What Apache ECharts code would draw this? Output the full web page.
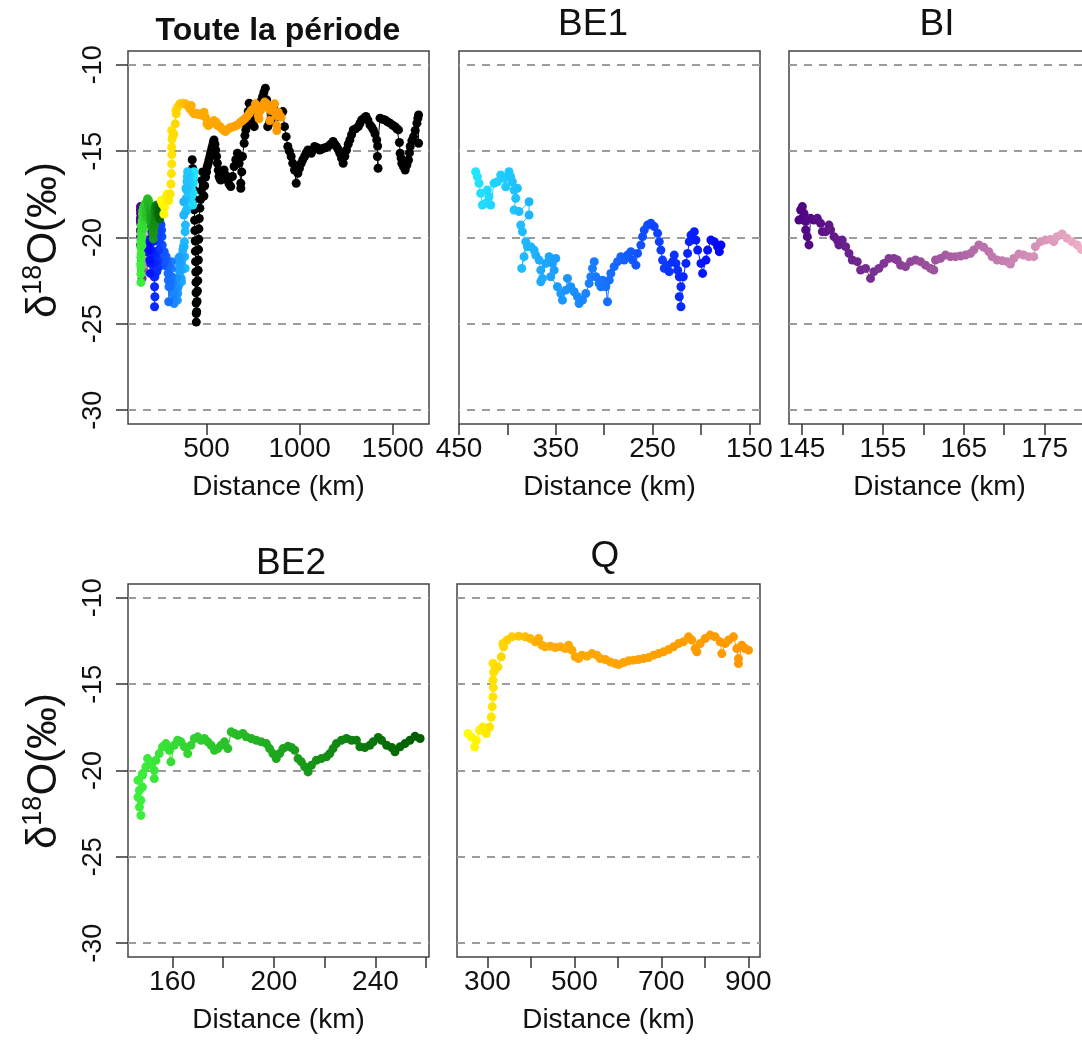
<!DOCTYPE html>
<html><head><meta charset="utf-8">
<script src="https://cdn.jsdelivr.net/npm/echarts@6/dist/echarts.min.js"></script>
<style>html,body{margin:0;padding:0;background:#fff}#c{width:1082px;height:1041px}</style>
</head><body><div id="c"></div>
<script>
// ---------- DATA ----------
const BE1_dist = [432.8,431,429.3,427.6,425.9,422.4,420.7,419,417.2,413.8,410.3,406.9,403.4,401.7,398.3,396.6,394.8,393.1,389.7,391.4,393.1,387.9,377.6,377.6,386.2,384.5,381,385.2,382.8,379.3,375.9,372.4,370.7,367.2,365.5,363.8,365.5,360.3,356.9,353.4,350,351.7,355.2,348.3,344.8,343.1,339.7,337.9,334.5,331,327.6,325.9,322.4,319,315.5,313.8,312.1,310.3,308.6,305.2,303.4,301.7,298.3,296.6,294.8,293.1,289.7,286.2,282.8,279.3,275.9,272.4,270.7,267.2,265.5,262.1,260.3,258.6,255.2,251.7,248.3,244.8,243.1,241.4,239.7,237.9,234.5,232.8,229.3,227.6,225.9,224.1,222.4,220.7,222.4,220.7,218.3,215.5,213.8,212.1,210.3,206.9,205.2,203.4,200,198.3,194.8,193.1,189.7,186.2,182.8,181,179.3];
const BE1_d18O = [-16.19,-16.48,-16.86,-17.44,-18.12,-18.02,-17.25,-17.64,-18.12,-16.86,-16.77,-16.38,-16.57,-17.06,-16.19,-16.48,-16.77,-17.25,-17.15,-17.73,-18.41,-18.5,-17.93,-18.7,-19.28,-19.66,-20.24,-21.79,-21.11,-20.53,-20.53,-20.73,-21.02,-21.31,-21.89,-22.37,-22.56,-21.5,-21.11,-21.5,-21.21,-21.89,-22.27,-22.85,-23.24,-23.63,-23.05,-22.37,-22.85,-23.14,-23.43,-23.82,-23.63,-23.24,-22.66,-22.27,-21.79,-21.4,-22.27,-22.66,-22.85,-22.47,-22.85,-23.72,-22.47,-22.08,-21.69,-21.4,-21.11,-21.31,-21.02,-20.82,-21.31,-21.6,-20.92,-20.44,-19.95,-19.57,-19.28,-19.18,-19.37,-19.76,-20.24,-20.73,-21.31,-21.79,-21.6,-21.98,-21.4,-21.02,-21.5,-21.89,-22.27,-22.85,-23.43,-24.01,-22.27,-21.5,-20.92,-20.24,-19.86,-19.66,-20.15,-20.73,-21.5,-22.08,-21.31,-20.73,-20.15,-20.24,-20.53,-20.82,-20.44];

const BI_dist = [144.84,145.05,145.25,144.63,145.05,145.46,145.46,145.66,145.87,146.07,146.49,146.9,147.31,147.52,147.93,148.34,148.54,148.96,149.37,149.57,149.98,150.4,150.81,151.22,151.84,152.25,152.87,153.48,153.89,154.51,155.13,155.75,156.36,156.78,157.19,157.8,158.42,159.04,159.66,160.27,160.89,161.3,161.51,162.12,162.74,163.36,163.98,164.59,165.21,165.83,166.24,166.86,167.47,168.09,168.5,169.12,169.74,170.35,170.77,171.18,171.8,172.41,173.03,173.65,173.85,174.47,175.08,175.7,176.12,176.53,177.15,177.76,178.38,179,179.53];
const BI_d18O = [-18.41,-18.21,-18.6,-18.99,-18.89,-19.08,-19.56,-19.95,-20.43,-18.89,-18.99,-18.89,-19.18,-19.66,-19.66,-19.28,-19.56,-19.95,-20.15,-20.43,-20.15,-20.53,-20.92,-21.3,-21.4,-21.88,-21.79,-22.37,-21.98,-21.79,-21.5,-21.21,-21.21,-21.3,-21.6,-21.69,-21.4,-21.3,-21.4,-21.6,-21.79,-21.88,-21.3,-21.21,-21.02,-21.11,-21.11,-21.07,-21.02,-20.92,-20.72,-20.43,-20.57,-20.82,-21.11,-21.3,-21.34,-21.4,-21.54,-21.21,-20.96,-21.02,-21.11,-21.11,-20.53,-20.24,-20.15,-20.11,-20.24,-19.95,-19.8,-20.05,-20.24,-20.43,-20.69];

const BE2_dist = [147.6,147.0,147.6,146.4,147.0,146.4,148.2,148.2,148.23,149.55,150.2,151.5,152.84,152.84,153.5,154.8,156.1,157.45,158.77,159.4,160.74,162.06,163.38,164.7,166.02,167.33,168.65,169.97,171.3,172.6,173.92,175.24,176.56,177.87,179.19,180.5,181.83,183.14,184.46,185.78,187.75,189.07,191.05,193.03,195,197,198.3,199.6,200.9,202.25,203.57,205.54,206.86,208.2,209.5,210.8,212.1,213.45,214.77,216.7,218.7,220.7,222,223.3,224.6,226.6,228.6,230.6,232.5,233.87,235.8,237.8,239.1,241.1,242.4,244.4,246.4,247.7,249.7,251.65,253.6,255.6,257.6];
const BE2_d18O = [-22.6,-22.12,-21.73,-21.54,-21.15,-20.57,-20.96,-20.18,-20.28,-19.79,-19.31,-19.6,-19.99,-20.47,-19.41,-19.02,-18.63,-18.44,-18.83,-19.5,-18.54,-18.25,-18.34,-18.63,-19.02,-18.54,-18.15,-18.05,-18.25,-18.15,-18.34,-18.54,-18.83,-18.73,-18.54,-18.34,-18.73,-17.76,-17.86,-17.96,-17.86,-18.05,-18.15,-18.25,-18.34,-18.44,-18.73,-19.02,-19.31,-19.02,-18.73,-18.6,-18.67,-18.83,-19.31,-19.5,-19.79,-20.08,-19.7,-19.41,-19.31,-19.21,-19.02,-18.73,-18.44,-18.25,-18.15,-18.25,-18.25,-18.63,-18.67,-18.54,-18.34,-18.09,-18.25,-18.54,-18.67,-18.92,-18.63,-18.44,-18.25,-18.02,-18.15];

const Q_dist = [255.3,263,270.6,274.5,282,289.7,297.4,305,308.9,311,312.7,313.5,312.7,314.5,312.7,316.6,324.1,331.9,335.6,337.3,345,356.4,371.8,387.1,398.6,410,417.7,425.4,433,444.6,456,467.5,479,486.7,494.4,502,509.7,517.4,528.9,540.3,551.8,559.5,571,582.5,594,601.6,613,624.6,636,647.6,659,670.6,682,693.6,705,716.6,728,739.6,751,762.6,770.2,777.9,781.7,789.4,800.9,812.4,823.9,835.4,839.2,846.9,854.5,866,873.6,877.5,877.5,885.2,892.8,900.5];
const Q_d18O = [-17.86,-18.06,-18.64,-18.25,-17.67,-17.48,-17.86,-17.48,-16.9,-16.3,-15.74,-15.2,-14.77,-14.3,-13.8,-14.19,-14.0,-13.42,-12.64,-12.84,-12.45,-12.26,-12.22,-12.26,-12.36,-12.55,-12.36,-12.74,-12.84,-12.8,-12.88,-12.84,-12.94,-12.74,-13.03,-13.42,-13.52,-13.32,-13.38,-13.23,-13.32,-13.52,-13.57,-13.71,-13.81,-13.86,-13.75,-13.65,-13.61,-13.57,-13.52,-13.46,-13.32,-13.23,-13.13,-13.0,-12.84,-12.65,-12.55,-12.26,-12.45,-12.94,-13.13,-12.65,-12.36,-12.16,-12.26,-12.55,-13.23,-12.65,-12.45,-12.26,-12.94,-13.52,-13.81,-12.74,-12.94,-13.03];

const ALL_dist = [423,425,428,430,432,434,436,437,439,440,441,442,443,443.5,444,444.7,445,447,449,451,453,455,456,457,458,459,461,464,468,472,476,479,482,486,490,495,500,504,509,513,518,522,527,531,536,540,545,549,554,558,563,567,572,576,585,594,603,612,621,630,639,648,657,666,675,684,684,689,693,702,706,711,715,720,724,729,734,738,747,756,765,774,783,792,801,808,815.9,823,828.5,837,846.5,855,864.5,878,891.5,900,909.6,918.6,927.6,936.6,945,954.6,963,972.6,981.6,990.6,999,1008.6,1017,1026.6,1035,1044.7,1053,1062.7,1071,1080.7,1094,1107.7,1117,1125.8,1139,1152.8,1166,1179.8,1189,1197.8,1207,1215.9,1225,1233.9,1243,1251.9,1261,1269.9,1279,1288,1301,1315,1324,1333,1345,1356.4,1367,1378,1387,1396,1405,1414,1417.7,1421.3,1419,1432,1445,1459,1472,1486,1500,1513,1522,1531,1536,1540,1545,1549,1558,1567,1576,1585,1590,1594,1603,1612,1621,1630,1635,1639,1639];
const ALL_d18O = [-15.5,-16.0,-16.6,-17.2,-17.8,-18.4,-19.0,-19.6,-20.2,-20.8,-21.4,-22.0,-22.6,-23.2,-23.8,-24.4,-24.9,-24.3,-23.7,-23.1,-22.5,-21.9,-21.3,-20.7,-20.1,-19.5,-18.9,-18.3,-17.8,-17.3,-16.7,-16.2,-17.0,-17.6,-17.0,-16.5,-16.2,-15.89,-15.7,-15.51,-15.3,-15.12,-14.9,-14.73,-14.5,-14.35,-14.6,-14.93,-15.3,-15.7,-16.1,-16.47,-16.6,-16.67,-16.3,-16.09,-16.4,-16.67,-16.9,-17.05,-16.47,-15.89,-15.5,-15.12,-15.7,-16.86,-17.15,-16.2,-15.31,-14.54,-14.1,-13.77,-13.5,-13.19,-12.7,-12.22,-12.6,-12.99,-13.3,-13.58,-12.99,-12.7,-12.42,-12.1,-11.84,-11.6,-11.35,-12.03,-13.58,-13.4,-13.19,-12.9,-12.61,-12.8,-12.99,-12.85,-12.71,-13.58,-14.16,-14.73,-15.0,-15.31,-15.7,-16.09,-16.86,-16.28,-16.0,-15.7,-15.5,-15.31,-15.1,-14.93,-15.0,-15.12,-14.9,-14.73,-14.8,-14.93,-14.9,-14.83,-14.8,-14.73,-14.6,-14.44,-14.6,-14.73,-14.9,-15.12,-15.4,-15.7,-15.3,-14.93,-14.6,-14.35,-14.05,-13.77,-13.7,-13.58,-13.4,-13.19,-13.1,-12.99,-13.2,-13.48,-13.6,-13.77,-14.0,-14.35,-15.31,-15.99,-14.7,-13.09,-13.15,-13.19,-13.3,-13.38,-13.5,-13.58,-13.7,-13.77,-14.5,-15.12,-15.4,-15.7,-15.9,-16.09,-15.8,-15.51,-15.1,-14.73,-14.4,-14.16,-13.8,-13.38,-13.1,-12.9,-14.54];

const Y_TICKS = [-30,-25,-20,-15,-10];
const X1_TICKS = [500,1000,1500], X1_LABELS = [500,1000,1500];
const X2_TICKS = [150,200,250,300,350,400,450], X2_LABELS = [150,250,350,450];
const X3_TICKS = [145,150,155,160,165,170,175,180], X3_LABELS = [145,155,165,175];
const X4_TICKS = [160,180,200,220,240,260], X4_LABELS = [160,200,240];
const X5_TICKS = [300,400,500,600,700,800,900], X5_LABELS = [300,500,700,900];
const TITLES = ['Toute la période','BE1','BI','BE2','Q'];
const X_NAME = 'Distance (km)';

// ---------- BUILD ----------
const pairs = (xs, ys) => xs.map((x, i) => [x, ys[i]]);
const FONT = 'Liberation Sans, Arial, sans-serif';
const grids = [
  {left:128, top:51, width:301, height:373},
  {left:459, top:51, width:301, height:373},
  {left:789, top:51, width:301, height:373},
  {left:128, top:584, width:301, height:373},
  {left:457, top:584, width:303, height:373}
].map(g => Object.assign(g, {show:true, borderColor:'#444', borderWidth:1.5, containLabel:false, outerBoundsMode:'none'}));

function xAxis(i, min, max, ticks, labels, inverse) {
  return {
    type:'value', gridIndex:i, min, max, inverse: !!inverse,
    name: X_NAME, nameLocation:'middle', nameGap:49,
    nameTextStyle:{fontFamily:FONT, fontSize:28, color:'#111'},
    axisLine:{show:false}, splitLine:{show:false},
    axisTick:{show:true, length:11, customValues:ticks, lineStyle:{color:'#333', width:1.5}},
    axisLabel:{show:true, customValues:labels, margin:11, fontFamily:FONT, fontSize:28, color:'#111', formatter: v => String(v)}
  };
}
function yAxis(i, showLabels) {
  return {
    type:'value', gridIndex:i, min:-30.8, max:-9.2,
    axisLine:{show:false}, splitLine:{show:false},
    axisTick:{show:showLabels, length:12, customValues:Y_TICKS, lineStyle:{color:'#333', width:1.5}},
    axisLabel:{show:showLabels, customValues:Y_TICKS, rotate:90, margin:21, fontFamily:FONT, fontSize:27, color:'#111', formatter: v => String(v)}
  };
}
const gridLines = {
  silent:true, z:1, symbol:['none','none'], label:{show:false},
  lineStyle:{type:[8,7], color:'#9c9c9c', width:2},
  data: Y_TICKS.map(v => ({yAxis:v})), animation:false
};
function ser(name, xi, data, extra) {
  return Object.assign({
    name, type:'line', xAxisIndex:xi, yAxisIndex:xi, data,
    symbol:'circle', symbolSize:9, showSymbol:true, showAllSymbol:true,
    lineStyle:{width:1}, z:2, animation:false, silent:true
  }, extra || {});
}
const series = [
  ser('ALL', 0, pairs(ALL_dist, ALL_d18O), {itemStyle:{color:'#000'}, lineStyle:{width:1, color:'#000'}, markLine:gridLines}),
  ser('BI_all', 0, pairs(BI_dist, BI_d18O)),
  ser('BE1_all', 0, pairs(BE1_dist, BE1_d18O)),
  ser('BE2_all', 0, pairs(BE2_dist, BE2_d18O)),
  ser('Q_all', 0, pairs(Q_dist, Q_d18O)),
  ser('BE1', 1, pairs(BE1_dist, BE1_d18O), {markLine:gridLines}),
  ser('BI', 2, pairs(BI_dist, BI_d18O), {markLine:gridLines}),
  ser('BE2', 3, pairs(BE2_dist, BE2_d18O), {markLine:gridLines}),
  ser('Q', 4, pairs(Q_dist, Q_d18O), {markLine:gridLines})
];
const visualMap = [
  {type:'continuous', show:false, seriesIndex:[2,5], dimension:0, min:175, max:435, inRange:{color:['#0000FF','#1878FF','#22E6FF']}},
  {type:'continuous', show:false, seriesIndex:[1,6], dimension:0, min:144, max:181, inRange:{color:['#4B0082','#A35AA0','#F5B5C8']}},
  {type:'continuous', show:false, seriesIndex:[3,7], dimension:0, min:146, max:258, inRange:{color:['#3CF03C','#1EA61E','#005C00']}},
  {type:'continuous', show:false, seriesIndex:[4,8], dimension:0, min:255, max:901, inRange:{color:['#FFFF00','#FFAE00','#FFA500','#FF9F00','#FF9800']}}
];
const titlePos = [[278,31,32,'bold'],[593,25,37,'normal'],[937,25,37,'normal'],[291,564,37,'normal'],[605,557,37,'normal']];
const graphic = TITLES.map((t, i) => ({
  type:'text', x:titlePos[i][0], y:titlePos[i][1], silent:true,
  style:{text:t, fontFamily:FONT, fontSize:titlePos[i][2], fontWeight:titlePos[i][3], fill:'#111', align:'center', verticalAlign:'middle'}
}));
[[44,240],[44,771]].forEach(p => graphic.push({
  type:'text', x:p[0], y:p[1], rotation:Math.PI/2, silent:true,
  style:{text:'{a|δ}{s|18}{a|O(‰)}', align:'center', verticalAlign:'middle', fill:'#111',
    rich:{a:{fontFamily:FONT, fontSize:42, lineHeight:48, fill:'#111'}, s:{fontFamily:FONT, fontSize:27, lineHeight:14, verticalAlign:'top', fill:'#111'}}}
}));

const chart = echarts.init(document.getElementById('c'), null, {renderer:'canvas'});
chart.setOption({
  animation:false, backgroundColor:'#fff',
  grid: grids,
  xAxis: [
    xAxis(0, 78, 1695, X1_TICKS, X1_LABELS),
    xAxis(1, 139, 450, X2_TICKS, X2_LABELS, true),
    xAxis(2, 143.4, 180.6, X3_TICKS, X3_LABELS),
    xAxis(3, 142.5, 261.1, X4_TICKS, X4_LABELS),
    xAxis(4, 230, 927, X5_TICKS, X5_LABELS)
  ],
  yAxis: [yAxis(0,true), yAxis(1,false), yAxis(2,false), yAxis(3,true), yAxis(4,false)],
  visualMap, series, graphic
});
</script></body></html>
